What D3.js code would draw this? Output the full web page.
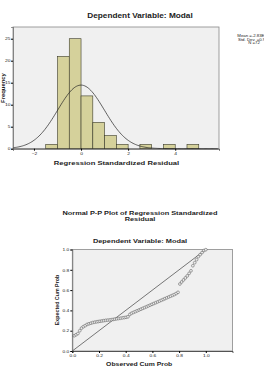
<!DOCTYPE html>
<html>
<head>
<meta charset="utf-8">
<script src="https://cdn.jsdelivr.net/npm/d3@7"></script>
<style>
  body { margin: 0; background: #fff; }
  text { font-family: "Liberation Sans", Arial, sans-serif; fill: #222; }
  .bold { font-weight: bold; }
</style>
</head>
<body>
<svg id="chart" width="264" height="380"></svg>
<script>
// histogram of regression standardized residuals
const binStarts = [-1.5, -1, -0.5, 0, 0.5, 1, 1.5, 2, 2.5, 3, 3.5, 4, 4.5]
const binCounts = [1, 21, 25, 12, 6, 3, 1, 0, 1, 0, 1, 0, 1]
const binWidth = 0.5
const resMean = 0
const resSd = 0.993
const resN = 72
const legendLines = ["Mean =-2.83E-16", "Std. Dev. =0.993", "N =72"]
const histYTicks = [0, 5, 10, 15, 20, 25]
const histXTicks = [-2, 0, 2, 4]

// normal P-P plot
const ppObserved = [0.014, 0.028, 0.042, 0.056, 0.069, 0.083, 0.097, 0.111, 0.125, 0.139,
  0.153, 0.167, 0.181, 0.194, 0.208, 0.222, 0.236, 0.250, 0.264, 0.278,
  0.292, 0.306, 0.319, 0.333, 0.347, 0.361, 0.375, 0.389, 0.403, 0.417,
  0.431, 0.444, 0.458, 0.472, 0.486, 0.500, 0.514, 0.528, 0.542, 0.556,
  0.569, 0.583, 0.597, 0.611, 0.625, 0.639, 0.653, 0.667, 0.681, 0.694,
  0.708, 0.722, 0.736, 0.750, 0.764, 0.778, 0.792, 0.806, 0.819, 0.833,
  0.847, 0.861, 0.875, 0.889, 0.903, 0.917, 0.931, 0.944, 0.958, 0.972,
  0.986, 1.000]
const ppExpected = [0.150, 0.160, 0.172, 0.200, 0.225, 0.240, 0.250, 0.262, 0.268, 0.274,
  0.280, 0.284, 0.287, 0.290, 0.293, 0.296, 0.299, 0.302, 0.304, 0.306,
  0.308, 0.311, 0.314, 0.317, 0.320, 0.323, 0.326, 0.329, 0.332, 0.337,
  0.360, 0.372, 0.380, 0.388, 0.396, 0.404, 0.412, 0.420, 0.428, 0.436,
  0.444, 0.452, 0.460, 0.468, 0.476, 0.484, 0.492, 0.500, 0.508, 0.516,
  0.524, 0.532, 0.540, 0.548, 0.556, 0.566, 0.578, 0.660, 0.680, 0.700,
  0.720, 0.740, 0.765, 0.790, 0.840, 0.870, 0.900, 0.930, 0.950, 0.970,
  0.990, 0.998]
const ppTicks = [0, 0.2, 0.4, 0.6, 0.8, 1.0]

const svg = d3.select('#chart')
const stretch = 1.27   // the picture is wider than it is tall

// ---------- histogram ----------
const xH = d3.scaleLinear().domain([-2.89, 5.86]).range([13, 219])
const yH = d3.scaleLinear().domain([0, 27.66]).range([148.7, 27])

svg.append('rect')
  .attr('x', xH.range()[0]).attr('y', yH.range()[1])
  .attr('width', xH.range()[1] - xH.range()[0])
  .attr('height', yH.range()[0] - yH.range()[1])
  .attr('fill', '#f0f0f0').attr('stroke', '#888').attr('stroke-width', 0.8)

svg.append('g')
  .selectAll('rect')
  .data(binStarts.map((s, i) => ({s: s, c: binCounts[i]})).filter(d => d.c > 0))
  .join('rect')
  .attr('x', d => xH(d.s))
  .attr('y', d => yH(d.c))
  .attr('width', d => xH(d.s + binWidth) - xH(d.s))
  .attr('height', d => yH(0) - yH(d.c))
  .attr('fill', '#d5d19b')
  .attr('stroke', '#3a3a2a')
  .attr('stroke-width', 0.6)

const curveXs = d3.range(xH.domain()[0], xH.domain()[1], 0.05)
const normal = x => resN * binWidth * Math.exp(-0.5 * ((x - resMean) / resSd) ** 2) / (resSd * Math.sqrt(2 * Math.PI))
svg.append('path')
  .datum(curveXs)
  .attr('d', d3.line().x(d => xH(d)).y(d => yH(normal(d))).curve(d3.curveBasis))
  .attr('fill', 'none').attr('stroke', '#222').attr('stroke-width', 0.7)

svg.append('g')
  .attr('transform', 'translate(0,' + yH(0) + ')')
  .call(d3.axisBottom(xH).tickValues(histXTicks).tickSize(2).tickPadding(2))
  .call(g => g.select('.domain').attr('stroke', '#333').attr('stroke-width', 0.8))
  .call(g => g.selectAll('text').attr('font-size', 3.9).attr('class', 'h'))

svg.append('g')
  .attr('transform', 'translate(' + xH.range()[0] + ',0)')
  .call(d3.axisLeft(yH).tickValues(histYTicks).tickSize(2).tickPadding(0.6))
  .call(g => g.select('.domain').attr('stroke', '#555').attr('stroke-width', 0.6))
  .call(g => g.selectAll('text').attr('font-size', 3.9).attr('class', 'h'))

svg.append('text').attr('class', 'bold h')
  .attr('x', 140).attr('y', 16).attr('dy', '0.35em')
  .attr('text-anchor', 'middle').attr('font-size', 6.5)
  .text('Dependent Variable: Modal')

svg.append('text').attr('class', 'bold h')
  .attr('x', 116.5).attr('y', 163).attr('dy', '0.35em')
  .attr('text-anchor', 'middle').attr('font-size', 6.0)
  .text('Regression Standardized Residual')

svg.append('text').attr('class', 'bold')
  .attr('transform', 'translate(4.8,88) rotate(-90)')
  .attr('text-anchor', 'middle').attr('font-size', 5.9)
  .text('Frequency')

// legend runs past the right edge, as in the picture
svg.append('g')
  .selectAll('text')
  .data(legendLines)
  .join('text')
  .attr('class', 'h')
  .attr('x', 254)
  .attr('y', (d, i) => 36.1 + i * 3.4)
  .attr('dy', '0.35em')
  .attr('text-anchor', 'middle')
  .attr('font-size', 3.4)
  .text(d => d)

// ---------- P-P plot ----------
const xP = d3.scaleLinear().domain([0, 1.2]).range([72.3, 232.5])
const yP = d3.scaleLinear().domain([0, 1]).range([351, 249.5])

svg.append('text').attr('class', 'bold h')
  .attr('x', 140).attr('y', 213.3).attr('dy', '0.35em')
  .attr('text-anchor', 'middle').attr('font-size', 5.8)
  .text('Normal P-P Plot of Regression Standardized')
svg.append('text').attr('class', 'bold h')
  .attr('x', 140).attr('y', 219.4).attr('dy', '0.35em')
  .attr('text-anchor', 'middle').attr('font-size', 5.8)
  .text('Residual')
svg.append('text').attr('class', 'bold h')
  .attr('x', 140).attr('y', 241).attr('dy', '0.35em')
  .attr('text-anchor', 'middle').attr('font-size', 5.8)
  .text('Dependent Variable: Modal')

svg.append('rect')
  .attr('x', xP.range()[0]).attr('y', yP.range()[1])
  .attr('width', xP.range()[1] - xP.range()[0])
  .attr('height', yP.range()[0] - yP.range()[1])
  .attr('fill', '#f0f0f0').attr('stroke', '#888').attr('stroke-width', 0.8)

svg.append('line')
  .attr('x1', xP(0)).attr('y1', yP(0))
  .attr('x2', xP(1)).attr('y2', yP(1))
  .attr('stroke', '#222').attr('stroke-width', 0.6)

svg.append('g')
  .selectAll('circle')
  .data(ppObserved.map((o, i) => ({o: o, e: ppExpected[i]})))
  .join('circle')
  .attr('cx', d => xP(d.o))
  .attr('cy', d => yP(d.e))
  .attr('r', 1.4)
  .attr('fill', '#ececec')
  .attr('stroke', '#444')
  .attr('stroke-width', 0.45)

svg.append('g')
  .attr('transform', 'translate(0,' + yP(0) + ')')
  .call(d3.axisBottom(xP).tickValues(ppTicks).tickFormat(d3.format('.1f')).tickSize(2).tickPadding(1.2))
  .call(g => g.select('.domain').attr('stroke', '#333').attr('stroke-width', 0.8))
  .call(g => g.selectAll('text').attr('font-size', 3.8).attr('class', 'h'))

svg.append('g')
  .attr('transform', 'translate(' + xP.range()[0] + ',0)')
  .call(d3.axisLeft(yP).tickValues(ppTicks).tickFormat(d3.format('.1f')).tickSize(2).tickPadding(1))
  .call(g => g.select('.domain').attr('stroke', '#555').attr('stroke-width', 0.6))
  .call(g => g.selectAll('text').attr('font-size', 3.8).attr('class', 'h'))

svg.append('text').attr('class', 'bold h')
  .attr('x', 139.2).attr('y', 364).attr('dy', '0.35em')
  .attr('text-anchor', 'middle').attr('font-size', 5.4)
  .text('Observed Cum Prob')

svg.append('text').attr('class', 'bold')
  .attr('transform', 'translate(58.5,300) rotate(-90)')
  .attr('text-anchor', 'middle').attr('font-size', 5.3)
  .text('Expected Cum Prob')

// widen horizontal texts to match the stretched picture
svg.selectAll('text.h').each(function() {
  const len = this.getComputedTextLength()
  d3.select(this).attr('textLength', len * stretch).attr('lengthAdjust', 'spacingAndGlyphs')
})
svg.selectAll('.tick text').attr('fill', '#333')
</script>
</body>
</html>
